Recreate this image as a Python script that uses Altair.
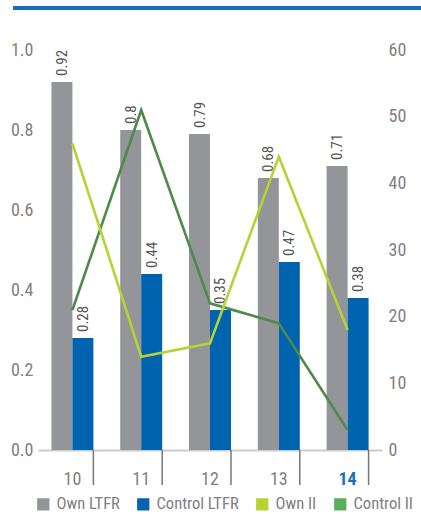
import altair as alt
import pandas as pd

years = ['10', '11', '12', '13', '14']
own_ltfr = [0.92, 0.80, 0.79, 0.68, 0.71]
control_ltfr = [0.28, 0.44, 0.35, 0.47, 0.38]
own_ii = [46, 14, 16, 44, 18]
control_ii = [21, 51, 22, 19, 3]

series_names = ['Own LTFR', 'Control LTFR', 'Own II', 'Control II']
legend_colors = ['#939598', '#0063af', '#b5d334', '#5aae5a']
line_names = ['Control II', 'Own II']
line_colors = ['#4f8a4b', '#b5d334']
left_ticks = [0, 0.2, 0.4, 0.6, 0.8, 1.0]
right_ticks = [0, 10, 20, 30, 40, 50, 60]

FONT = 'Liberation Sans Narrow, Arial Narrow, Roboto Condensed, Liberation Sans'

bars_df = pd.DataFrame(
    [{'year': y, 'series': 'Own LTFR', 'value': v, 'label': str(v)} for y, v in zip(years, own_ltfr)]
    + [{'year': y, 'series': 'Control LTFR', 'value': v, 'label': str(v)} for y, v in zip(years, control_ltfr)]
)
lines_df = pd.DataFrame(
    [{'year': y, 'series': 'Control II', 'value': v, 'order': 0} for y, v in zip(years, control_ii)]
    + [{'year': y, 'series': 'Own II', 'value': v, 'order': 1} for y, v in zip(years, own_ii)]
)
years_df = pd.DataFrame({'year': years})

x_scale = alt.Scale(domain=years, paddingInner=0.39, paddingOuter=0.195)
x_enc = alt.X('year:N', scale=x_scale, sort=years, title=None,
              axis=alt.Axis(ticks=False, domain=True, domainColor='#cccccc', domainWidth=2,
                            labelAngle=0, labelFont=FONT, labelFontSize=18, labelPadding=20,
                            labelColor={'condition': {'test': "datum.label == '14'", 'value': '#1a6fba'}, 'value': '#808080'},
                            labelFontWeight={'condition': {'test': "datum.label == '14'", 'value': 'bold'}, 'value': 'normal'}))
xoff = alt.XOffset('series:N', sort=['Own LTFR', 'Control LTFR'],
                   scale=alt.Scale(domain=['Own LTFR', 'Control LTFR'], paddingInner=0, paddingOuter=0))

y_left = alt.Y('value:Q', scale=alt.Scale(domain=[0, 1]), title=None,
               axis=alt.Axis(values=left_ticks, format='.1f', domain=False, ticks=False, grid=False,
                             labelFont=FONT, labelFontSize=18, labelColor='#808080', labelPadding=5))

bars = alt.Chart(bars_df).mark_bar().encode(
    x=x_enc,
    xOffset=xoff,
    y=y_left,
    color=alt.Color('series:N', scale=alt.Scale(domain=series_names, range=legend_colors),
                    legend=alt.Legend(title=None, orient='none', legendX=-3, legendY=446, direction='horizontal',
                                      symbolType='square', symbolSize=150, symbolStrokeWidth=0,
                                      labelFont=FONT, labelFontSize=16.5, labelColor='#808080',
                                      labelLimit=300, columnPadding=15, labelOffset=5, padding=0)),
)

texts = alt.Chart(bars_df).mark_text(angle=270, align='left', baseline='middle', dx=6,
                                     font=FONT, fontSize=15, color='#555555').encode(
    x=x_enc,
    xOffset=xoff,
    y=y_left,
    text='label:N',
)

left_group = alt.layer(bars, texts)

lines = alt.Chart(lines_df).mark_line(strokeWidth=2.6).encode(
    x=x_enc,
    y=alt.Y('value:Q', scale=alt.Scale(domain=[0, 60]), title=None,
            axis=alt.Axis(orient='right', values=right_ticks, domain=False, ticks=False, grid=False,
                          labelFont=FONT, labelFontSize=18, labelColor='#808080', labelPadding=6)),
    stroke=alt.Stroke('series:N', scale=alt.Scale(domain=line_names, range=line_colors), legend=None),
    order='order:Q',
)

ticks = alt.Chart(years_df).mark_rule(color='#777777', strokeWidth=1.5).encode(
    x=alt.X('year:N', scale=x_scale, sort=years, bandPosition=1, title=None),
    y=alt.value(400),
    y2=alt.value(435),
)

top_rule = alt.Chart(years_df.head(1)).mark_rule(color='#1a6fba', strokeWidth=4).encode(
    x=alt.value(-25), x2=alt.value(383), y=alt.value(-42),
)

chart = alt.layer(left_group, lines, ticks, top_rule).resolve_scale(
    y='independent'
).properties(
    width=344, height=400,
    autosize=alt.AutoSizeParams(type='none'),
    padding={'left': 38, 'top': 50, 'right': 39, 'bottom': 64},
).configure_view(stroke=None)

chart.save('out.html', embed_options={'renderer': 'svg', 'actions': False})
